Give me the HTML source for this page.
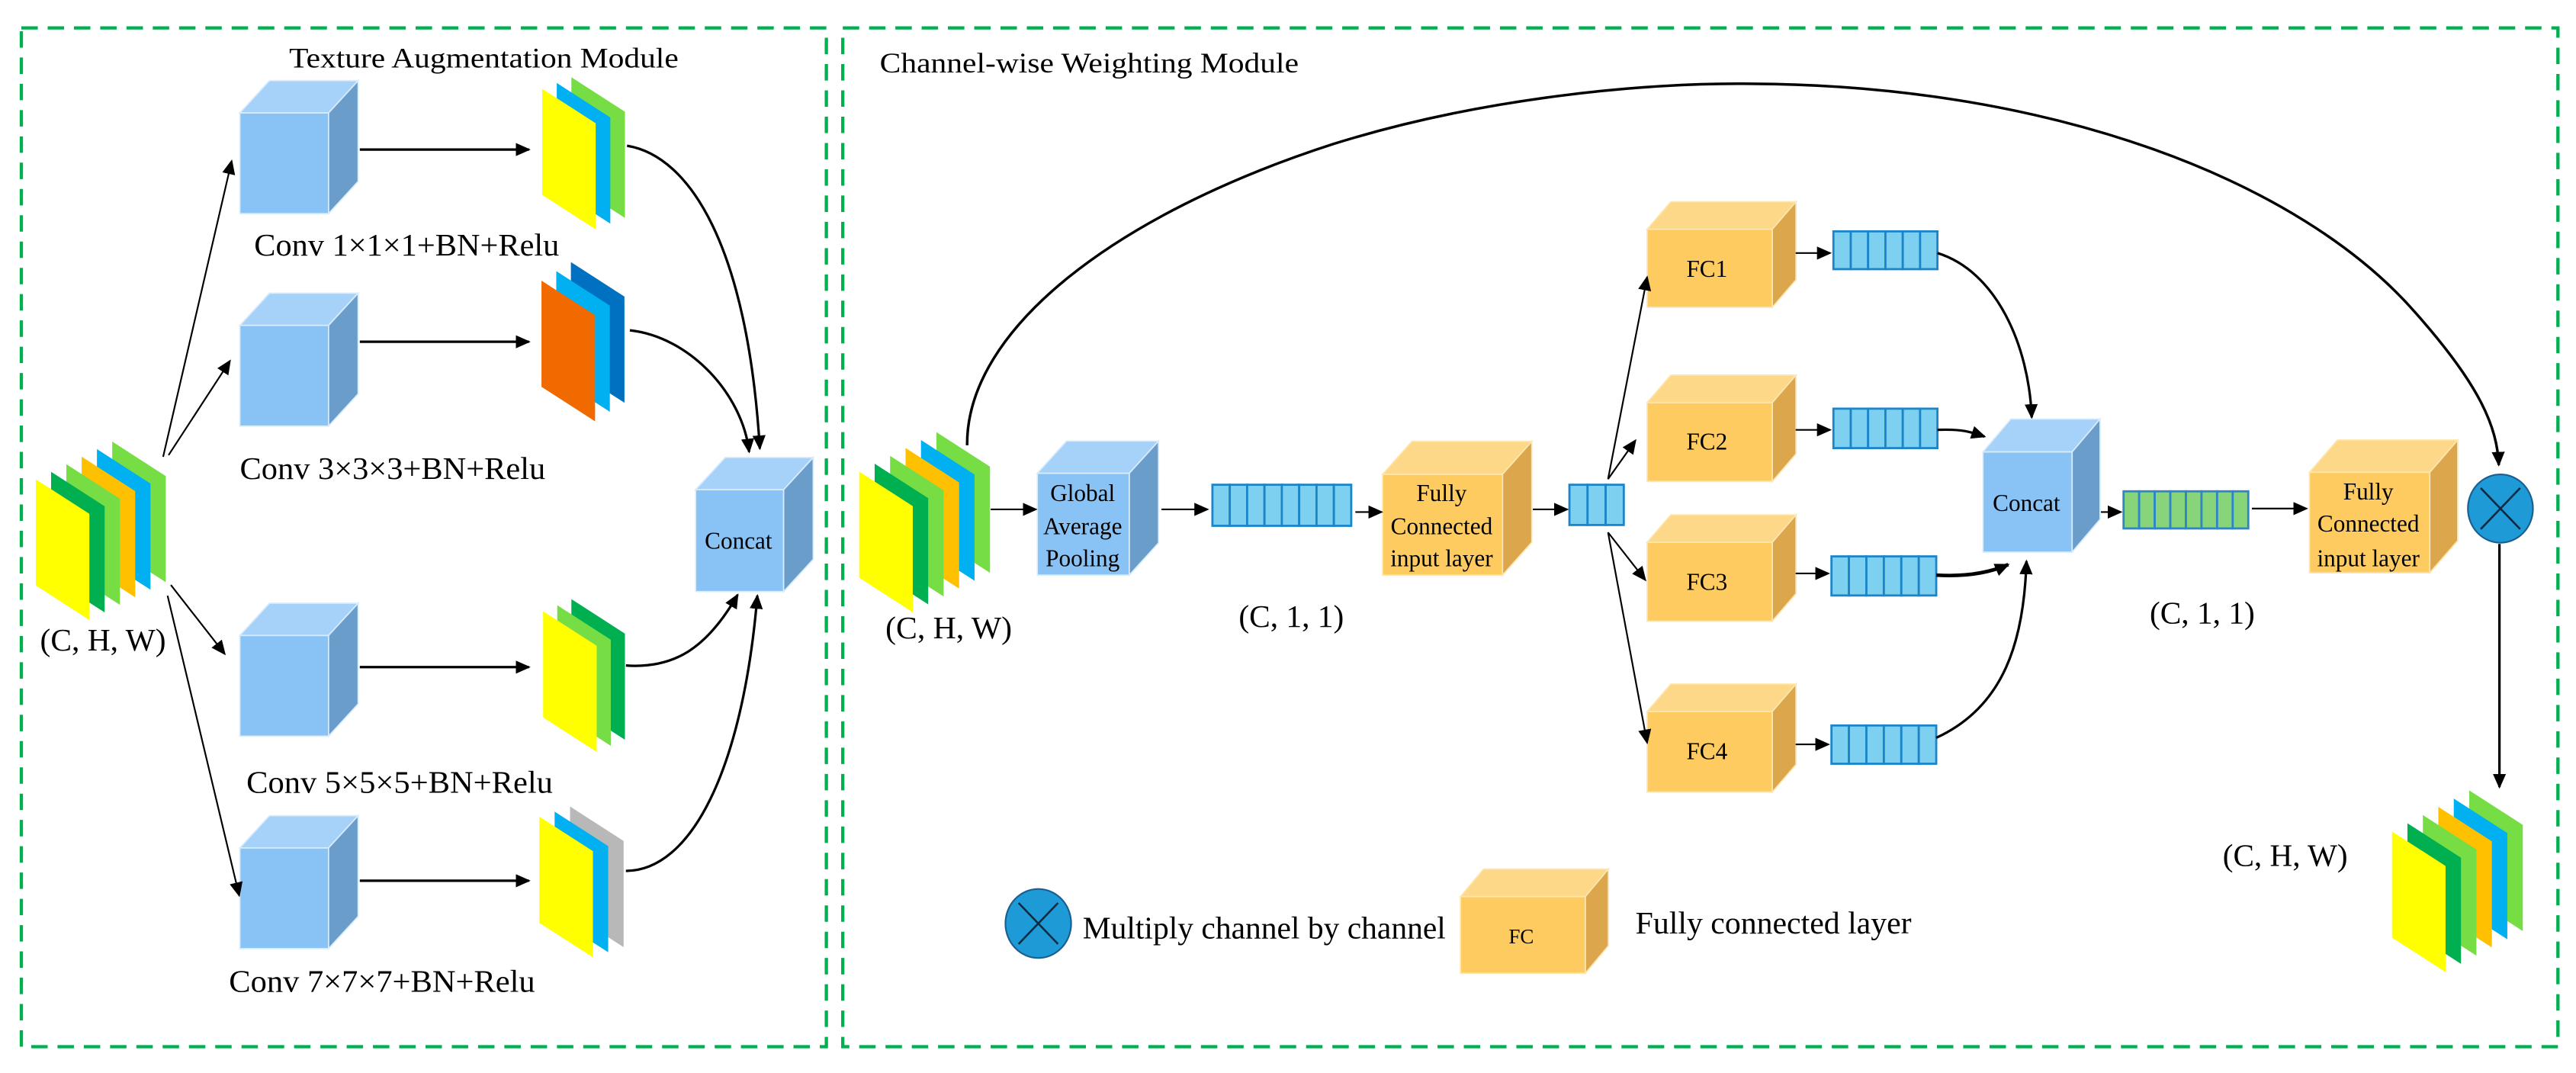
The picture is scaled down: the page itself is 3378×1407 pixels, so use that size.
<!DOCTYPE html>
<html><head><meta charset="utf-8"><style>html,body{margin:0;padding:0;background:#fff}svg{display:block}svg text{font-family:"Liberation Serif","Times New Roman",serif}</style></head>
<body>
<svg width="3378" height="1407" viewBox="0 0 1568 653" preserveAspectRatio="none" xmlns="http://www.w3.org/2000/svg" style="font-family:'Liberation Serif',serif">
<defs>
<marker id="a" markerUnits="userSpaceOnUse" markerWidth="9" markerHeight="8" refX="8" refY="4" orient="auto"><path d="M0,0 L9,4 L0,8 Z" fill="#000"/></marker>
</defs>
<rect width="1568" height="653" fill="#fff"/>
<rect x="13" y="17" width="490" height="620" fill="none" stroke="#00b050" stroke-width="2" stroke-dasharray="10,6"/>
<rect x="513" y="17" width="1044" height="620" fill="none" stroke="#00b050" stroke-width="2" stroke-dasharray="10,6"/>

<g font-size="19" fill="#000">
<text x="176" y="41" textLength="237" lengthAdjust="spacingAndGlyphs" font-size="17">Texture Augmentation Module</text>
<text x="535.5" y="44" textLength="255" lengthAdjust="spacingAndGlyphs" font-size="17">Channel-wise Weighting Module</text>
<text x="154.7" y="155.5" textLength="185.7" lengthAdjust="spacingAndGlyphs">Conv 1×1×1+BN+Relu</text>
<text x="146" y="291.5" textLength="186" lengthAdjust="spacingAndGlyphs">Conv 3×3×3+BN+Relu</text>
<text x="150" y="482.5" textLength="186.5" lengthAdjust="spacingAndGlyphs">Conv 5×5×5+BN+Relu</text>
<text x="139.4" y="603.5" textLength="186.3" lengthAdjust="spacingAndGlyphs">Conv 7×7×7+BN+Relu</text>
<text x="24.4" y="396" textLength="76.6" lengthAdjust="spacingAndGlyphs">(C, H, W)</text>
<text x="539" y="388.5" textLength="77" lengthAdjust="spacingAndGlyphs">(C, H, W)</text>
<text x="1353" y="527" textLength="76" lengthAdjust="spacingAndGlyphs">(C, H, W)</text>
<text x="754" y="381.5" textLength="64" lengthAdjust="spacingAndGlyphs">(C, 1, 1)</text>
<text x="1308.5" y="379.5" textLength="64" lengthAdjust="spacingAndGlyphs">(C, 1, 1)</text>
<text x="659" y="571" textLength="221" lengthAdjust="spacingAndGlyphs">Multiply channel by channel</text>
<text x="995.5" y="568" textLength="168" lengthAdjust="spacingAndGlyphs">Fully connected layer</text>
</g>

<g>
<polygon points="68.3,268.7 100.9,289.7 100.9,354.3 68.3,333.3" fill="#77dd44"/>
<polygon points="59,273.3 91.6,294.3 91.6,358.9 59,337.9" fill="#00b0f0"/>
<polygon points="49.7,277.9 82.3,298.9 82.3,363.5 49.7,342.5" fill="#ffc000"/>
<polygon points="40.4,282.5 73,303.5 73,368.1 40.4,347.1" fill="#77dd44"/>
<polygon points="31.1,287.1 63.7,308.1 63.7,372.7 31.1,351.7" fill="#00b050"/>
<polygon points="21.8,291.7 54.4,312.7 54.4,377.3 21.8,356.3" fill="#ffff00"/>
</g>
<g>
<polygon points="570,263 602.6,284 602.6,348.6 570,327.6" fill="#77dd44"/>
<polygon points="560.6,267.8 593.2,288.8 593.2,353.4 560.6,332.4" fill="#00b0f0"/>
<polygon points="551.2,272.6 583.8,293.6 583.8,358.2 551.2,337.2" fill="#ffc000"/>
<polygon points="541.8,277.4 574.4,298.4 574.4,363 541.8,342" fill="#77dd44"/>
<polygon points="532.4,282.2 565,303.2 565,367.8 532.4,346.8" fill="#00b050"/>
<polygon points="523,287 555.6,308 555.6,372.6 523,351.6" fill="#ffff00"/>
</g>
<g>
<polygon points="1503,481 1535.6,502 1535.6,566.6 1503,545.6" fill="#77dd44"/>
<polygon points="1493.6,486 1526.2,507 1526.2,571.6 1493.6,550.6" fill="#00b0f0"/>
<polygon points="1484.2,491 1516.8,512 1516.8,576.6 1484.2,555.6" fill="#ffc000"/>
<polygon points="1474.8,496 1507.4,517 1507.4,581.6 1474.8,560.6" fill="#77dd44"/>
<polygon points="1465.4,501 1498,522 1498,586.6 1465.4,565.6" fill="#00b050"/>
<polygon points="1456,506 1488.6,527 1488.6,591.6 1456,570.6" fill="#ffff00"/>
</g>
<g>
<polygon points="347.8,47 380.4,68 380.4,132.6 347.8,111.6" fill="#77dd44"/>
<polygon points="338.9,50.5 371.5,71.5 371.5,136.1 338.9,115.1" fill="#00b0f0"/>
<polygon points="330,54 362.6,75 362.6,139.6 330,118.6" fill="#ffff00"/>
<polygon points="347.5,159.5 380.1,180.5 380.1,245.1 347.5,224.1" fill="#0070c0"/>
<polygon points="338.6,165 371.2,186 371.2,250.6 338.6,229.6" fill="#00b0f0"/>
<polygon points="329.6,170.8 362.2,191.8 362.2,256.4 329.6,235.4" fill="#f06a00"/>
<polygon points="347.8,364.6 380.4,385.6 380.4,450.2 347.8,429.2" fill="#00b050"/>
<polygon points="339.2,368.3 371.8,389.3 371.8,453.9 339.2,432.9" fill="#77dd44"/>
<polygon points="330.6,372 363.2,393 363.2,457.6 330.6,436.6" fill="#ffff00"/>
<polygon points="347,490.8 379.6,511.8 379.6,576.4 347,555.4" fill="#b8b8b8"/>
<polygon points="337.6,493.9 370.2,514.9 370.2,579.5 337.6,558.5" fill="#00b0f0"/>
<polygon points="328.3,497 360.9,518 360.9,582.6 328.3,561.6" fill="#ffff00"/>
</g>

<g stroke="#d8ecfc" stroke-width="0.8">
<g transform="translate(146,68.7)"><rect width="54" height="61.3" fill="#89c3f5"/><polygon points="0,0 18,-19.6 72,-19.6 54,0" fill="#a6d1f9"/><polygon points="54,0 72,-19.6 72,41.7 54,61.3" fill="#6b9dcb"/></g>
<g transform="translate(146,198)"><rect width="54" height="61.3" fill="#89c3f5"/><polygon points="0,0 18,-19.6 72,-19.6 54,0" fill="#a6d1f9"/><polygon points="54,0 72,-19.6 72,41.7 54,61.3" fill="#6b9dcb"/></g>
<g transform="translate(146,386.7)"><rect width="54" height="61.3" fill="#89c3f5"/><polygon points="0,0 18,-19.6 72,-19.6 54,0" fill="#a6d1f9"/><polygon points="54,0 72,-19.6 72,41.7 54,61.3" fill="#6b9dcb"/></g>
<g transform="translate(146,516)"><rect width="54" height="61.3" fill="#89c3f5"/><polygon points="0,0 18,-19.6 72,-19.6 54,0" fill="#a6d1f9"/><polygon points="54,0 72,-19.6 72,41.7 54,61.3" fill="#6b9dcb"/></g>
<g transform="translate(423.4,298)"><rect width="53.6" height="62" fill="#89c3f5"/><polygon points="0,0 18,-19.6 71.6,-19.6 53.6,0" fill="#a6d1f9"/><polygon points="53.6,0 71.6,-19.6 71.6,42.4 53.6,62" fill="#6b9dcb"/></g>
<g transform="translate(631.4,288)"><rect width="56" height="62" fill="#89c3f5"/><polygon points="0,0 17.8,-19.6 73.8,-19.6 56,0" fill="#a6d1f9"/><polygon points="56,0 73.8,-19.6 73.8,42.4 56,62" fill="#6b9dcb"/></g>
<g transform="translate(1207,275)"><rect width="54.3" height="61" fill="#89c3f5"/><polygon points="0,0 17,-20 71.3,-20 54.3,0" fill="#a6d1f9"/><polygon points="54.3,0 71.3,-20 71.3,41 54.3,61" fill="#6b9dcb"/></g>
</g>
<g stroke="#fde6b0" stroke-width="0.8">
<g transform="translate(841.6,288.6)"><rect width="73" height="61.4" fill="#fecb61"/><polygon points="0,0 17.8,-20 90.8,-20 73,0" fill="#fdd888"/><polygon points="73,0 90.8,-20 90.8,41.4 73,61.4" fill="#dca74c"/></g>
<g transform="translate(1405.8,287.4)"><rect width="73.2" height="61.2" fill="#fecb61"/><polygon points="0,0 17,-19.6 90.2,-19.6 73.2,0" fill="#fdd888"/><polygon points="73.2,0 90.2,-19.6 90.2,41.6 73.2,61.2" fill="#dca74c"/></g>
<g transform="translate(1002.6,139.5)"><rect width="76.2" height="47.5" fill="#fecb61"/><polygon points="0,0 14.4,-16.7 90.6,-16.7 76.2,0" fill="#fdd888"/><polygon points="76.2,0 90.6,-16.7 90.6,30.8 76.2,47.5" fill="#dca74c"/></g>
<g transform="translate(1002.6,245)"><rect width="76.2" height="48" fill="#fecb61"/><polygon points="0,0 14.4,-16.7 90.6,-16.7 76.2,0" fill="#fdd888"/><polygon points="76.2,0 90.6,-16.7 90.6,31.3 76.2,48" fill="#dca74c"/></g>
<g transform="translate(1002.6,330)"><rect width="76.2" height="48" fill="#fecb61"/><polygon points="0,0 14.4,-16.7 90.6,-16.7 76.2,0" fill="#fdd888"/><polygon points="76.2,0 90.6,-16.7 90.6,31.3 76.2,48" fill="#dca74c"/></g>
<g transform="translate(1002.6,433)"><rect width="76.2" height="49" fill="#fecb61"/><polygon points="0,0 14.4,-16.7 90.6,-16.7 76.2,0" fill="#fdd888"/><polygon points="76.2,0 90.6,-16.7 90.6,32.3 76.2,49" fill="#dca74c"/></g>
<g transform="translate(889,545.6)"><rect width="76" height="46.7" fill="#fecb61"/><polygon points="0,0 14,-16.7 90,-16.7 76,0" fill="#fdd888"/><polygon points="76,0 90,-16.7 90,30 76,46.7" fill="#dca74c"/></g>
</g>

<g font-size="14.5" fill="#000" text-anchor="middle">
<text x="449.5" y="334">Concat</text>
<text x="1233.5" y="311">Concat</text>
<text x="659" y="305">Global</text>
<text x="659" y="325">Average</text>
<text x="659" y="344.5">Pooling</text>
<text x="877.5" y="305">Fully</text>
<text x="877.5" y="325">Connected</text>
<text x="877.5" y="344.5">input layer</text>
<text x="1441.6" y="304">Fully</text>
<text x="1441.6" y="323.6">Connected</text>
<text x="1441.6" y="344.5">input layer</text>
<text x="1039" y="168.5">FC1</text>
<text x="1039" y="273.5">FC2</text>
<text x="1039" y="359">FC3</text>
<text x="1039" y="462">FC4</text>
<text x="926" y="574" font-size="12.5">FC</text>
</g>

<g stroke="#1a85c8" stroke-width="1.3" fill="#7dd0f0">
<rect x="738" y="295" width="10.56" height="25"/><rect x="748.56" y="295" width="10.56" height="25"/><rect x="759.12" y="295" width="10.56" height="25"/><rect x="769.68" y="295" width="10.56" height="25"/><rect x="780.24" y="295" width="10.56" height="25"/><rect x="790.8" y="295" width="10.56" height="25"/><rect x="801.36" y="295" width="10.56" height="25"/><rect x="811.92" y="295" width="10.56" height="25"/>
<rect x="955.3" y="295" width="11.03" height="24.5"/><rect x="966.33" y="295" width="11.03" height="24.5"/><rect x="977.36" y="295" width="11.03" height="24.5"/>
<g transform="translate(1116,140.8)"><rect x="0" width="10.55" height="23"/><rect x="10.55" width="10.55" height="23"/><rect x="21.1" width="10.55" height="23"/><rect x="31.65" width="10.55" height="23"/><rect x="42.2" width="10.55" height="23"/><rect x="52.75" width="10.55" height="23"/></g>
<g transform="translate(1116,248.7)"><rect x="0" width="10.55" height="24"/><rect x="10.55" width="10.55" height="24"/><rect x="21.1" width="10.55" height="24"/><rect x="31.65" width="10.55" height="24"/><rect x="42.2" width="10.55" height="24"/><rect x="52.75" width="10.55" height="24"/></g>
<g transform="translate(1114.8,338.6)"><rect x="0" width="10.63" height="23.8"/><rect x="10.63" width="10.63" height="23.8"/><rect x="21.26" width="10.63" height="23.8"/><rect x="31.89" width="10.63" height="23.8"/><rect x="42.52" width="10.63" height="23.8"/><rect x="53.15" width="10.63" height="23.8"/></g>
<g transform="translate(1114.8,441.5)"><rect x="0" width="10.63" height="23.3"/><rect x="10.63" width="10.63" height="23.3"/><rect x="21.26" width="10.63" height="23.3"/><rect x="31.89" width="10.63" height="23.3"/><rect x="42.52" width="10.63" height="23.3"/><rect x="53.15" width="10.63" height="23.3"/></g>
</g>
<g stroke="#2e86c8" stroke-width="1.3" fill="#88d47a" transform="translate(1292.6,299)">
<rect x="0" width="9.49" height="22.6"/><rect x="9.49" width="9.49" height="22.6"/><rect x="18.98" width="9.49" height="22.6"/><rect x="28.47" width="9.49" height="22.6"/><rect x="37.96" width="9.49" height="22.6"/><rect x="47.45" width="9.49" height="22.6"/><rect x="56.94" width="9.49" height="22.6"/><rect x="66.43" width="9.49" height="22.6"/>
</g>

<g stroke="#1a5f8f" stroke-width="1">
<ellipse cx="1522" cy="309.5" rx="19.8" ry="20.8" fill="#1e9ad6"/>
<ellipse cx="632" cy="562" rx="20" ry="21" fill="#1e9ad6"/>
</g>
<g stroke="#0d2a40" stroke-width="1.2">
<line x1="1510" y1="297" x2="1534" y2="322"/><line x1="1534" y1="297" x2="1510" y2="322"/>
<line x1="620" y1="549.5" x2="644" y2="574.5"/><line x1="644" y1="549.5" x2="620" y2="574.5"/>
</g>

<g stroke="#000" stroke-width="1" fill="none" marker-end="url(#a)">
<line x1="99.3" y1="278" x2="141" y2="98"/>
<line x1="102.6" y1="277" x2="140" y2="219.6"/>
<line x1="104" y1="356" x2="136.8" y2="398"/>
<line x1="102" y1="362.5" x2="145.6" y2="545"/>
<line x1="219" y1="91" x2="322" y2="91" stroke-width="1.5"/>
<line x1="219" y1="208" x2="322" y2="208" stroke-width="1.5"/>
<line x1="219" y1="406" x2="322" y2="406" stroke-width="1.5"/>
<line x1="219" y1="536" x2="322" y2="536" stroke-width="1.5"/>
<path d="M381.7,88.7 C420,95 455,150 462.5,273" stroke-width="1.5"/>
<path d="M383.4,201 C420,205 452,240 456,275" stroke-width="1.5"/>
<path d="M381,405 C410,407 430,395 449,362" stroke-width="1.5"/>
<path d="M381,530 C420,530 452,470 461,362.5" stroke-width="1.5"/>
<line x1="603" y1="310" x2="630.6" y2="310"/>
<line x1="707" y1="310" x2="735" y2="310"/>
<line x1="825" y1="311.6" x2="841" y2="311.6"/>
<line x1="933" y1="310" x2="954" y2="310"/>
<line x1="978.8" y1="291.6" x2="1002.6" y2="168.7"/>
<line x1="978.8" y1="291.6" x2="995.5" y2="268"/>
<line x1="978.8" y1="324" x2="1001.5" y2="353"/>
<line x1="978.8" y1="324" x2="1002.6" y2="452"/>
<line x1="1093" y1="154" x2="1114" y2="154"/>
<line x1="1093" y1="261.6" x2="1114" y2="261.6"/>
<line x1="1093" y1="349" x2="1113" y2="349"/>
<line x1="1093" y1="453" x2="1113" y2="453"/>
<path d="M1179.3,154 C1215,165 1235,210 1236.7,254" stroke-width="1.5"/>
<path d="M1179.3,261.6 C1195,261 1200,263 1208,265.7" stroke-width="1.5"/>
<path d="M1178.6,350 C1195,351 1210,349 1222.4,343.6" stroke-width="2.2"/>
<path d="M1178.6,449 C1220,430 1232,390 1233.5,341.5" stroke-width="1.5"/>
<line x1="1278.8" y1="311.6" x2="1291" y2="311.6"/>
<line x1="1370.7" y1="309.5" x2="1404" y2="309.5"/>
<line x1="1521.4" y1="331" x2="1521.4" y2="479" stroke-width="1.5"/>
<path d="M588.7,271 C588,200 680,130 812,87.5 C900,60 1000,50 1067,51 C1250,52 1400,110 1470,190 C1510,235 1520,260 1521,283" stroke-width="1.6"/>
</g>
</svg>
</body></html>
